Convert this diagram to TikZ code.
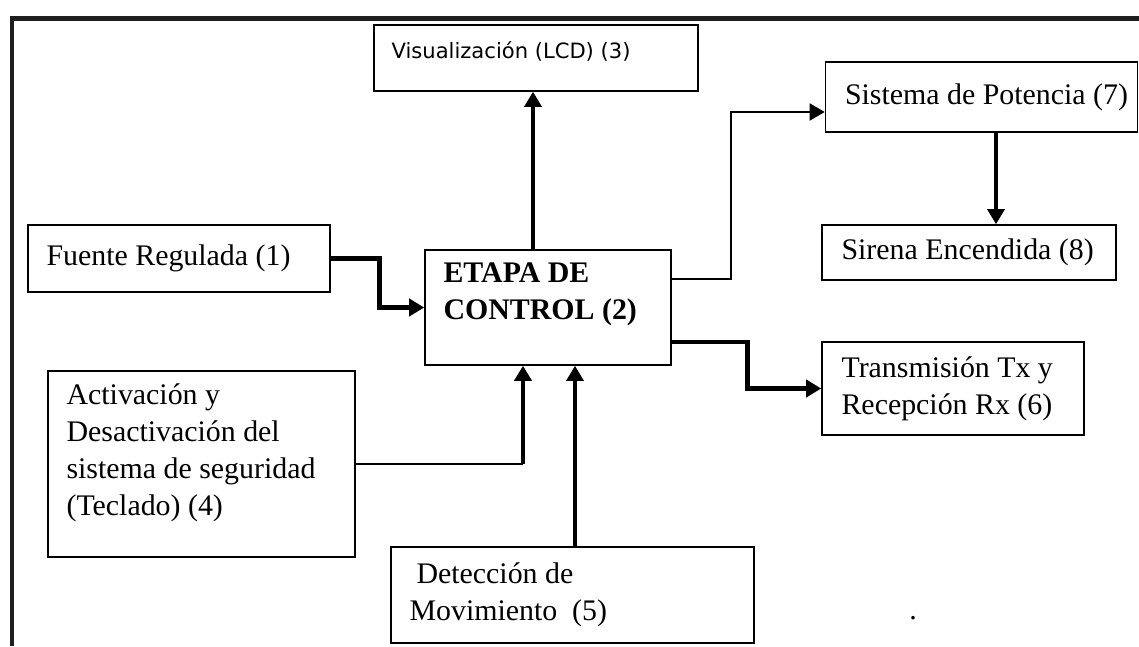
\documentclass[tikz,border=0pt]{standalone}
\usepackage{fontspec}
\setmainfont{Liberation Serif}
\newfontfamily\lcdfont{DejaVu Sans}
\usetikzlibrary{arrows.meta}
\begin{document}
\begin{tikzpicture}[
box/.style={draw,line width=.9pt,inner sep=0pt},
txt/.style={anchor=west,inner sep=0pt,align=left,font=\fontsize{17}{21}\selectfont},
arr/.style={-{Triangle[length=.3cm,width=.34cm]}},
thinline/.style={line width=1.1pt},
midline/.style={line width=1.8pt},
thickline/.style={line width=2.8pt}]
\useasboundingbox(0,0)rectangle(22.78,-12.92);
\draw[line width=2.3pt,black!88](.24,-12.92)--(.24,-.37)--(22.78,-.37);
% blocks
\node[box,minimum width=6.04cm,minimum height=1.34cm](fuente)at(3.58,-5.17){};
\node[box,minimum width=4.92cm,minimum height=2.30cm](etapa)at(10.96,-6.15){};
\node[box,minimum width=6.48cm,minimum height=1.32cm](lcd)at(10.72,-1.16){};
\node[box,minimum width=6.24cm,minimum height=1.40cm](potencia)at(19.63,-1.94){};
\node[box,minimum width=5.88cm,minimum height=1.10cm](sirena)at(19.38,-5.05){};
\node[box,minimum width=5.24cm,minimum height=1.86cm](tx)at(19.06,-7.77){};
\node[box,minimum width=6.14cm,minimum height=3.72cm](teclado)at(4.03,-9.28){};
\node[box,minimum width=7.26cm,minimum height=1.92cm](movim)at(11.45,-11.90){};
% texts
\node[txt](fuentetxt)at([xshift=.38cm]fuente.west){Fuente Regulada (1)};
\node[txt,font=\fontsize{17}{21}\selectfont\bfseries](etapatxt)at([xshift=.38cm,yshift=.27cm]etapa.west){ETAPA DE\\CONTROL (2)};
\node[txt,font=\lcdfont\fontsize{12}{14}\selectfont](lcdtxt)at([xshift=.36cm,yshift=.13cm]lcd.west){Visualización (LCD) (3)};
\node[txt](potenciatxt)at([xshift=.4cm]potencia.west){Sistema de Potencia (7)};
\node[txt](sirenatxt)at([xshift=.4cm]sirena.west){Sirena Encendida (8)};
\node[txt](txtxt)at([xshift=.4cm]tx.west){Transmisión Tx y\\Recepción Rx (6)};
\node[txt](tecladotxt)at([xshift=.38cm,yshift=.23cm]teclado.west){Activación y\\Desactivación del\\sistema de seguridad\\(Teclado) (4)};
\node[txt](movimtxt)at([xshift=.38cm]movim.west){\hspace*{.14cm}Detección de\\Movimiento\ \ (5)};
\node[inner sep=0pt,font=\fontsize{17}{21}\selectfont](punto)at(18.26,-12.36){.};
% connections
\draw[thickline,arr](fuente.east)--++(.98,0)|-(etapa.west);
\draw[midline,arr]([xshift=-.3cm]etapa.north)--([xshift=-.3cm]etapa.north|-lcd.south);
\draw[thinline,arr]([yshift=.57cm]etapa.east)--++(1.18,0)|-([yshift=-.3cm]potencia.west);
\draw[midline,arr]([xshift=.29cm]potencia.south)--([xshift=.29cm]potencia.south|-sirena.north);
\draw[thickline,arr]([yshift=-.69cm]etapa.east)--++(1.52,0)|-(tx.west);
\coordinate(kb)at([xshift=-.5cm]etapa.south|-teclado.east);
\draw[thinline](teclado.east)--(kb);
\draw[thickline,arr](kb)--(kb|-etapa.south);
\draw[midline,arr]([xshift=.05cm]movim.north)--([xshift=.05cm]movim.north|-etapa.south);
\end{tikzpicture}
\end{document}
